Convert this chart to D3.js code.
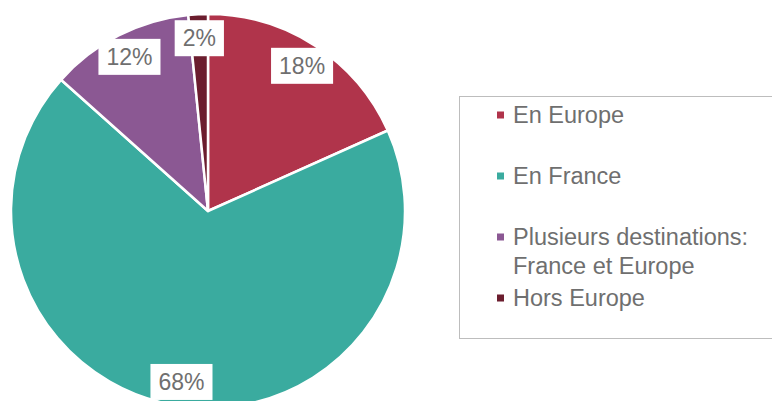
<!DOCTYPE html>
<html>
<head>
<meta charset="utf-8">
<script src="https://cdn.jsdelivr.net/npm/d3@7"></script>
<style>
  body { margin: 0; background: #fff; }
  svg { display: block; font-family: Arial, "Liberation Sans", sans-serif; }
</style>
</head>
<body>
<div id="app"></div>
<script>
// data
const categories = ['En Europe', 'En France', 'Plusieurs destinations: France et Europe', 'Hors Europe']
const values = [18.3, 68.3, 11.8, 1.6]
const labels = ['18%', '68%', '12%', '2%']
const legendLines = [['En Europe'], ['En France'], ['Plusieurs destinations:', 'France et Europe'], ['Hors Europe']]
const colors = ['#b0344b', '#3aab9f', '#8b5893', '#6b1d2e']

const width = 772
const height = 401
const cx = 208, cy = 211, radius = 197
const labelR = 173

const svg = d3.select('#app').append('svg')
  .attr('width', width)
  .attr('height', height)

const data = categories.map((c, i) => ({ c, v: values[i], label: labels[i], color: colors[i] }))

const pie = d3.pie().value(d => d.v).sort(null)
const arc = d3.arc().innerRadius(0).outerRadius(radius)
const labelArc = d3.arc().innerRadius(labelR).outerRadius(labelR)

const g = svg.append('g').attr('transform', `translate(${cx},${cy})`)

const arcs = pie(data)

g.selectAll('path').data(arcs)
  .join('path')
  .attr('d', arc)
  .attr('fill', d => d.data.color)
  .attr('stroke', '#fff')
  .attr('stroke-width', 2.5)
  .attr('stroke-linejoin', 'round')

// labels with white boxes
const lab = g.selectAll('g.lab').data(arcs)
  .join('g')
  .attr('class', 'lab')
  .attr('transform', d => `translate(${labelArc.centroid(d)})`)

lab.append('text')
  .attr('text-anchor', 'middle')
  .attr('dy', '0.35em')
  .attr('fill', '#6f6f6f')
  .attr('font-size', 23)
  .text(d => d.data.label)

lab.each(function() {
  const t = d3.select(this).select('text')
  const bb = t.node().getBBox()
  d3.select(this).insert('rect', 'text')
    .attr('x', bb.x - 8)
    .attr('y', -18)
    .attr('width', bb.width + 16)
    .attr('height', 36)
    .attr('fill', '#fff')
})

// legend
const legend = svg.append('g')
legend.append('rect')
  .attr('x', 459.5)
  .attr('y', 96.5)
  .attr('width', 330)
  .attr('height', 242)
  .attr('fill', 'none')
  .attr('stroke', '#bdbdbd')
  .attr('stroke-width', 1)

const rowY = [115, 176, 237, 298]
const item = legend.selectAll('g.item').data(legendLines)
  .join('g')
  .attr('class', 'item')
  .attr('transform', (d, i) => `translate(497,${rowY[i]})`)

item.append('rect')
  .attr('x', 0)
  .attr('y', -3.5)
  .attr('width', 7)
  .attr('height', 7)
  .attr('fill', (d, i) => colors[i])

item.selectAll('text').data(d => d)
  .join('text')
  .attr('x', 16)
  .attr('y', (d, j) => j * 29)
  .attr('dy', '0.35em')
  .attr('fill', '#6f6f6f')
  .attr('font-size', 23.5)
  .text(d => d)
</script>
</body>
</html>
